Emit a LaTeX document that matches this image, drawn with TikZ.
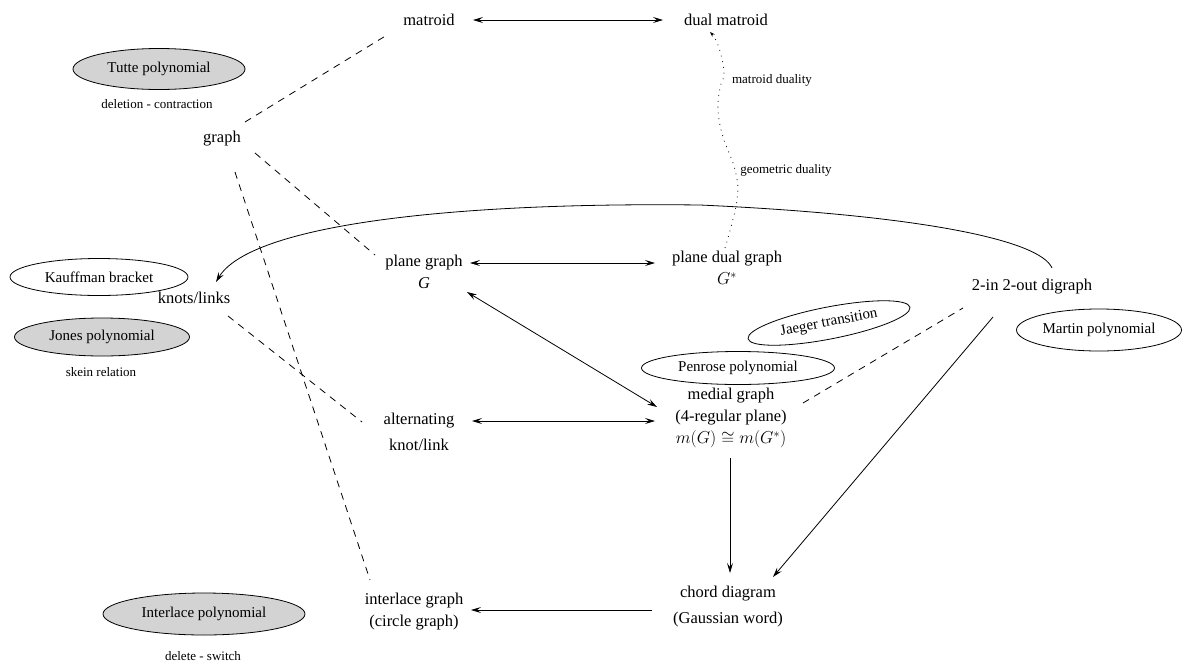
\documentclass[tikz,border=0pt]{standalone}
\usepackage{fontspec}
\setmainfont{Liberation Serif}
\usetikzlibrary{shapes.geometric,arrows.meta,calc}
\definecolor{lgray}{HTML}{D3D3D3}
\begin{document}
\begin{tikzpicture}[x=1pt,y=-1pt,
  lab/.style={inner sep=0pt, align=center, font=\fontsize{16.5}{22}\selectfont},
  labw/.style={inner sep=0pt, align=center, font=\fontsize{16.5}{26}\selectfont},
  small/.style={inner sep=0pt, font=\fontsize{13}{15}\selectfont},
  ell/.style={ellipse, draw, line width=0.8pt, inner sep=0pt, font=\fontsize{15}{18}\selectfont},
  grayell/.style={ell, fill=lgray},
  conn/.style={line width=0.8pt},
  dsh/.style={conn, dash pattern=on 7pt off 6pt},
  dotl/.style={line width=0.8pt, dash pattern=on 0.8pt off 5pt},
  arr/.style={-{Stealth[length=10pt,width=6pt,inset=4pt]}},
  darr/.style={{Stealth[length=10pt,width=6pt,inset=4pt]}-{Stealth[length=10pt,width=6pt,inset=4pt]}},
  sarr/.style={-{Stealth[length=5pt,width=3.5pt,inset=1.5pt]}}
]
\useasboundingbox (0,0) rectangle (1192,662);

% main nodes
\node[lab] (M) at (429,20) {matroid};
\node[lab] (D) at (726,20) {dual matroid};
\node[lab] (Gr) at (222,139) {graph};
\node[lab] (P) at (424,272) {plane graph\\\textit{G}};
\node[lab] (PD) at (727,268) {plane dual graph\\$G^*$};
\node[lab] (K) at (194,298) {knots/links};
\node[labw] (A) at (419,432) {alternating\\knot/link};
\node[lab] (Me) at (731,418) {medial graph\\(4-regular plane)\\$m(G)\cong m(G^*)$};
\node[lab] (Di) at (1032,287) {2-in 2-out digraph};
\node[labw] (C) at (728,607) {chord diagram\\(Gaussian word)};
\node[lab] (I) at (414,612) {interlace graph\\(circle graph)};

% ellipses
\node[grayell, minimum width=172pt, minimum height=41pt] (tutte) at (159,69) {Tutte polynomial};
\node[ell, minimum width=178pt, minimum height=37pt] (kauff) at (99,277) {Kauffman bracket};
\node[grayell, minimum width=175pt, minimum height=38pt] (jones) at (102,337) {Jones polynomial};
\node[ell, minimum width=193pt, minimum height=33pt] (penrose) at (738,368) {Penrose polynomial};
\node[ell, minimum width=165pt, minimum height=32pt, rotate=11] (jaeger) at (829,323) {Jaeger transition};
\node[ell, minimum width=165pt, minimum height=42pt] (martin) at (1099,330) {Martin polynomial};
\node[grayell, minimum width=202pt, minimum height=42pt] (interp) at (204,614) {Interlace polynomial};

% small labels
\node[small] (delcon) at (157,104) {deletion - contraction};
\node[small] (skein) at (101,372) {skein relation};
\node[small] (delsw) at (203,656) {delete - switch};
\node[small] (mdual) at (772,80) {matroid duality};
\node[small] (gdual) at (786,170) {geometric duality};

% connectors
\draw[conn, darr] ($(M)+(44,0)$) -- ($(D)+(-63,0)$);
\draw[dsh] ($(Gr)+(23,-17)$) -- ($(M)+(-42,15)$);
\draw[dsh] ($(Gr)+(33,14)$) -- ($(P)+(-49,-17)$);
\draw[dsh] ($(Gr)+(13,33)$) -- ($(I)+(-44,-32)$);
\draw[dsh] ($(K)+(34,18)$) -- ($(A)+(-57,-10)$);
\draw[conn, darr] ($(P)+(46,-9)$) -- ($(PD)+(-72,-5)$);
\draw[conn, darr] ($(P)+(43,20)$) -- ($(Me)+(-74,-11)$);
\draw[conn, darr] ($(A)+(53,-11)$) -- ($(Me)+(-76,3)$);
\draw[dsh] ($(Me)+(72,-15)$) -- ($(Di)+(-69,21)$);
\draw[conn, arr] ($(Di)+(-39,30)$) -- ($(C)+(45,-30)$);
\draw[conn, arr] ($(Me)+(-1,40)$) -- ($(C)+(2,-34)$);
\draw[conn, arr] ($(C)+(-76,3)$) -- ($(I)+(57,-2)$);

\coordinate (curvetop) at (700,205);
\draw[conn, arr] ($(Di)+(20,-19)$) .. controls (1040,240) and (920,215) .. (curvetop)
  .. controls (450,202) and (250,225) .. ($(K)+(22,-16)$);

\draw[dotl, sarr] plot[smooth, tension=0.7] coordinates {($(PD)+(-2,-20)$) (737,200) (735,170) (723,137) (718,110) (720,88) (724,72) (718,45) ($(D)+(-16,12)$)};
\end{tikzpicture}
\end{document}
